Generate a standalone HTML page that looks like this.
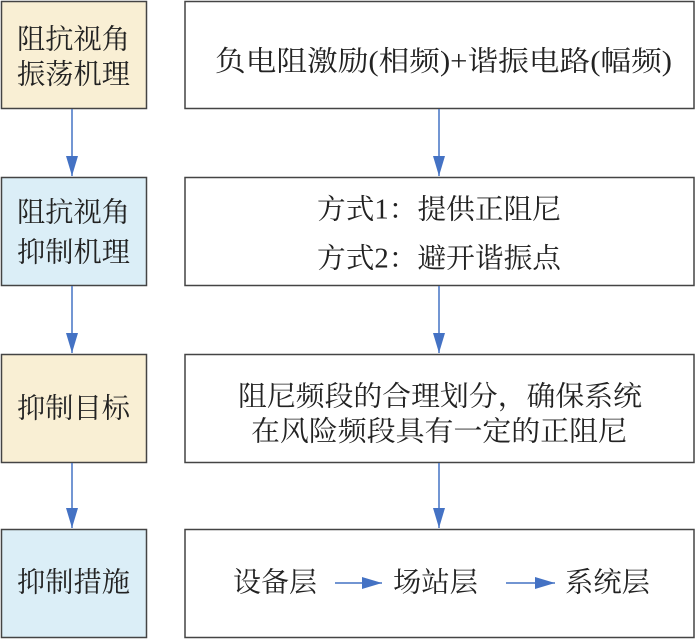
<!DOCTYPE html>
<html><head><meta charset="utf-8"><style>
html,body{margin:0;padding:0;background:#fff;}
svg{display:block;}
text{font-family:"Liberation Serif","Noto Serif CJK SC",serif;fill:#222;dominant-baseline:central;}
</style></head><body>
<svg width="696" height="641" viewBox="0 0 696 641" xmlns="http://www.w3.org/2000/svg">
<defs><marker id="ah" markerWidth="20" markerHeight="12" refX="20" refY="6" orient="auto" markerUnits="userSpaceOnUse" viewBox="0 0 20 12"><path d="M0,0 L20,6 L0,12 Z" fill="#4472c4"/></marker></defs>
<g stroke="#444" stroke-width="1.5">
<rect x="1.5" y="1.5" width="145" height="107" fill="#f9efd4"/>
<rect x="1.5" y="177.5" width="145" height="108" fill="#dbeef7"/>
<rect x="1.5" y="354.5" width="145" height="108" fill="#f9efd4"/>
<rect x="1.5" y="529.5" width="145" height="108" fill="#dbeef7"/>
<rect x="185" y="1.5" width="509" height="107" fill="#fff"/>
<rect x="185" y="177.5" width="509" height="108" fill="#fff"/>
<rect x="185" y="354.5" width="509" height="108" fill="#fff"/>
<rect x="185" y="529.5" width="509" height="108" fill="#fff"/>
</g>
<g stroke="#4472c4" stroke-width="1.5" marker-end="url(#ah)">
<line x1="72" y1="109" x2="72" y2="176"/>
<line x1="72" y1="286" x2="72" y2="353"/>
<line x1="72" y1="463" x2="72" y2="528"/>
<line x1="439" y1="109" x2="439" y2="176"/>
<line x1="439" y1="286" x2="439" y2="353"/>
<line x1="439" y1="463" x2="439" y2="528"/>
<line x1="335" y1="583" x2="382" y2="583"/>
<line x1="506" y1="583" x2="555" y2="583"/>
</g>
<g font-size="28">
<text x="17" y="40" textLength="113" lengthAdjust="spacingAndGlyphs">阻抗视角</text>
<text x="17" y="75" textLength="113" lengthAdjust="spacingAndGlyphs">振荡机理</text>
<text x="17" y="213" textLength="113" lengthAdjust="spacingAndGlyphs">阻抗视角</text>
<text x="17" y="253" textLength="113" lengthAdjust="spacingAndGlyphs">抑制机理</text>
<text x="17" y="409" textLength="113" lengthAdjust="spacingAndGlyphs">抑制目标</text>
<text x="17" y="583" textLength="113" lengthAdjust="spacingAndGlyphs">抑制措施</text>
<text x="215" y="62" textLength="457" lengthAdjust="spacingAndGlyphs">负电阻激励(相频)+谐振电路(幅频)</text>
<text x="317" y="210" textLength="244" lengthAdjust="spacingAndGlyphs">方式1：提供正阻尼</text>
<text x="317" y="259" textLength="244" lengthAdjust="spacingAndGlyphs">方式2：避开谐振点</text>
<text x="238" y="397" textLength="404" lengthAdjust="spacingAndGlyphs">阻尼频段的合理划分，确保系统</text>
<text x="251" y="432" textLength="376" lengthAdjust="spacingAndGlyphs">在风险频段具有一定的正阻尼</text>
<text x="233" y="583" textLength="84" lengthAdjust="spacingAndGlyphs">设备层</text>
<text x="393" y="583" textLength="85" lengthAdjust="spacingAndGlyphs">场站层</text>
<text x="565" y="583" textLength="85" lengthAdjust="spacingAndGlyphs">系统层</text>
</g>
</svg>
</body></html>
